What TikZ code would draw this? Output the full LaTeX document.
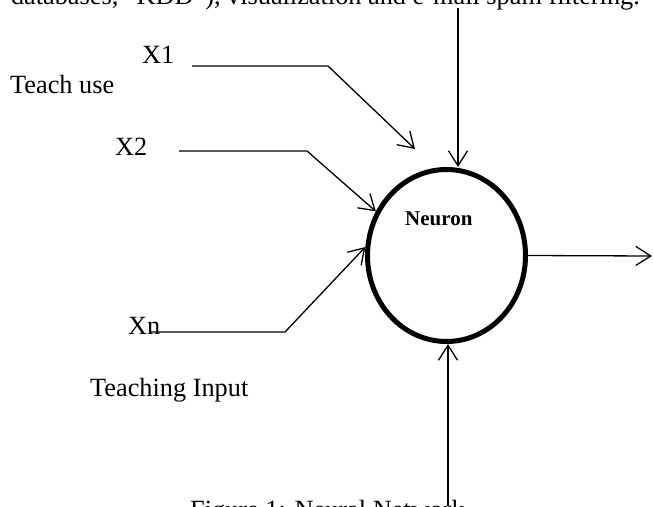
\documentclass[tikz,border=0pt]{standalone}
\usepackage{fontspec}
\setmainfont{Liberation Serif}
\usetikzlibrary{shapes.geometric,arrows.meta,calc}

\begin{document}
\begin{tikzpicture}[
  x=1pt, y=-1pt,
  txt/.style={inner sep=0pt, anchor=base west, font=\fontsize{26.3}{30}\selectfont},
  wire/.style={line width=1.3pt, line join=miter},
  arrow/.style={wire, -{Straight Barb[length=15pt, width=19pt]}},
  cell/.style={ellipse, draw, line width=5pt, minimum width=158pt, minimum height=172pt, inner sep=0pt},
]
\useasboundingbox (0,0) rectangle (653,506);
\clip (0,0) rectangle (653,506);

% === PAGE TEXT CUT BY THE FRAME ===
\node[txt, anchor=base east] (topcap) at (640,5) {databases, “KDD”), visualization and e-mail spam filtering.};
\node[txt] (botcap) at (190,518) {Figure 1: Neural Network};

% === NEURON ===
\node[cell] (neuron) at (446.5,255.5) {};
\node[txt, font=\fontsize{21}{24}\selectfont\bfseries] (lbl) at (405,225) {Neuron};

% === INPUT LABELS ===
\node[txt] (teachuse) at (10,93) {Teach use};
\node[txt] (x1) at (142,63) {X1};
\node[txt] (x2) at (115,155) {X2};
\node[txt] (xn) at (128,334) {Xn};
\node[txt] (teachin) at (90,396) {Teaching Input};

% === WIRE POINTS ===
\coordinate (x1a) at (192,66);
\coordinate (x1b) at (328,66);
\coordinate (x1c) at (415,149);
\coordinate (x2a) at (179,151);
\coordinate (x2b) at (307,151);
\coordinate (xna) at (150,332);
\coordinate (xnb) at (285,332);
\coordinate (topin) at (458,8);
\coordinate (botin) at (448,506);
\coordinate (outend) at (652,256);

\draw[arrow] (x1a) -- (x1b) -- (x1c);
\draw[arrow] (x2a) -- (x2b) -- (neuron.148);
\draw[arrow] (xna) -- (xnb) -- (neuron.174);
\draw[arrow] (topin) -- (topin |- neuron.north);
\draw[arrow] (botin) -- (botin |- neuron.south);
\draw[arrow] (neuron.east) -- (outend);
\end{tikzpicture}
\end{document}
